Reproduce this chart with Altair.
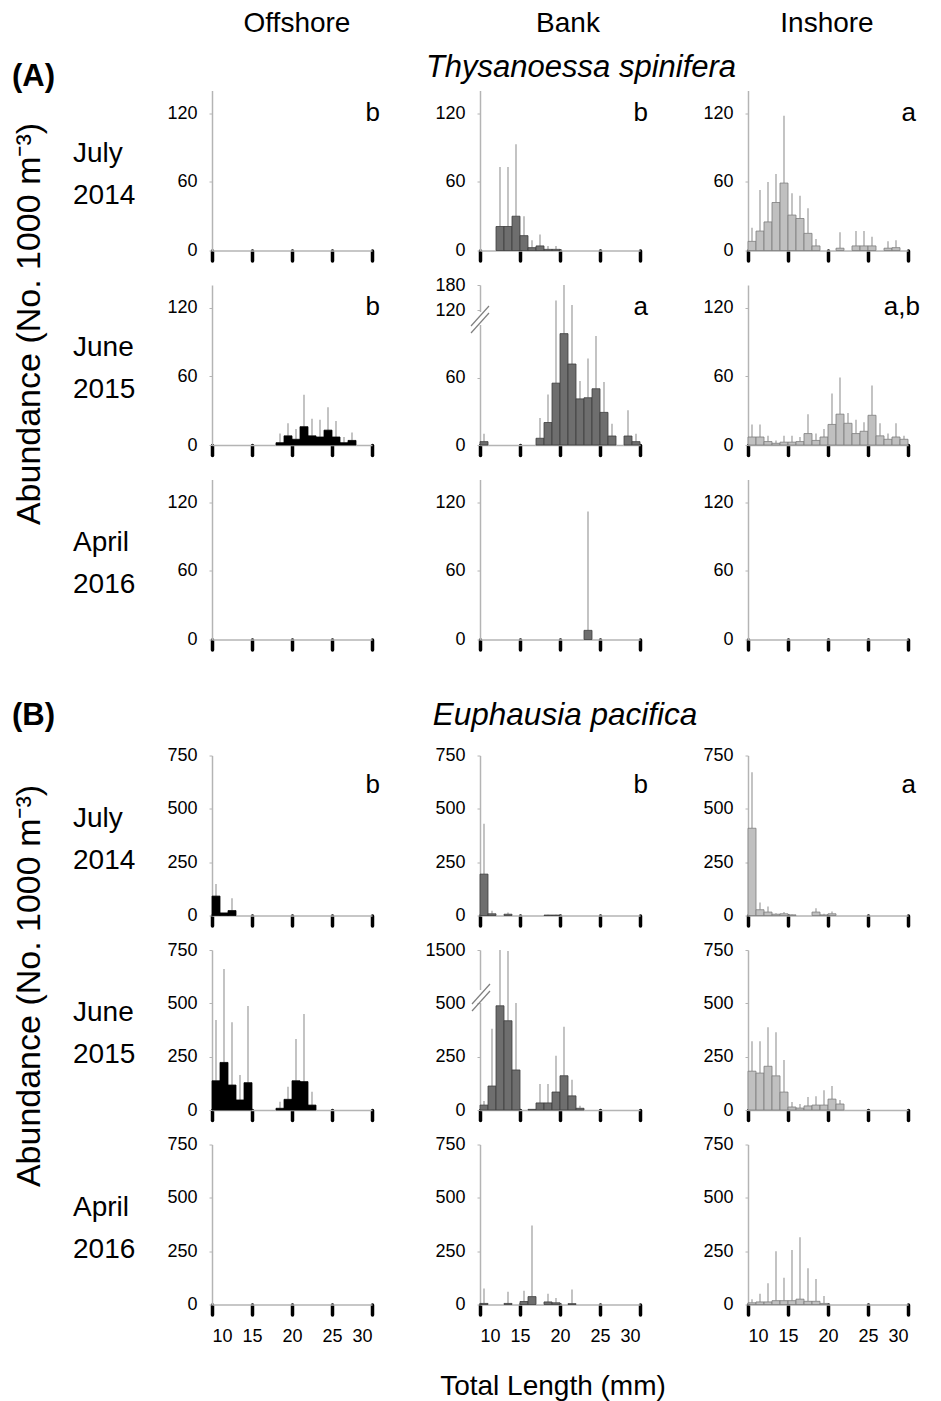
import altair as alt
import pandas as pd

FONT = "Liberation Sans"
BIN_START = list(range(10, 30))          # 1-mm length classes, 10..29
X_TICKS = [10, 15, 20, 25, 30]
COLUMNS = ["Offshore", "Bank", "Inshore"]
MONTHS = [("July", "2014"), ("June", "2015"), ("April", "2016")]
SPECIES = ["Thysanoessa spinifera", "Euphausia pacifica"]

# ---------------- (A) Thysanoessa spinifera ----------------
TS_JUL14_OFF_VAL = [0] * 20
TS_JUL14_OFF_ERR = [0] * 20
TS_JUL14_BANK_VAL = [0, 0, 21, 21, 30, 13, 2.5, 4, 1, 1, 0, 0, 0, 0, 0, 0, 0, 0, 0, 0]
TS_JUL14_BANK_ERR = [0, 0, 73, 73, 93, 30, 9, 14, 4, 4, 0, 0, 0, 0, 0, 0, 0, 0, 0, 0]
TS_JUL14_INS_VAL = [8, 17, 25, 42, 59, 31, 28, 15, 4, 0, 0, 2, 0, 4, 4, 4, 0, 2, 2.5, 0]
TS_JUL14_INS_ERR = [20, 53, 60, 67, 118, 50, 48, 37, 10, 0, 0, 16, 0, 17, 17, 12, 0, 8, 9, 0]

TS_JUN15_OFF_VAL = [0, 0, 0, 0, 0, 0, 0, 0, 2, 8, 5, 16, 8, 7, 13, 7, 2, 4, 0, 0]
TS_JUN15_OFF_ERR = [0, 0, 0, 0, 0, 0, 0, 0, 10, 19, 14, 44, 23, 22, 33, 21, 7, 11, 0, 0]
TS_JUN15_BANK_VAL = [3, 0, 0, 0, 0, 0, 0, 6, 20, 55, 99, 72, 41, 42, 50, 29, 8, 0, 8, 3]
TS_JUN15_BANK_ERR = [10, 0, 0, 0, 0, 0, 0, 24, 45, 143, 180, 132, 57, 77, 97, 56, 19, 0, 31, 10]
TS_JUN15_INS_VAL = [7, 7, 3, 1.5, 2.5, 2.5, 3, 10, 4, 7, 18, 27, 19, 10, 12, 26, 8, 5, 7, 5]
TS_JUN15_INS_ERR = [18, 18, 8, 4, 8, 8, 7, 27, 10, 14, 45, 59, 28, 22, 20, 52, 19, 10, 19, 8]

TS_APR16_OFF_VAL = [0] * 20
TS_APR16_OFF_ERR = [0] * 20
TS_APR16_BANK_VAL = [0, 0, 0, 0, 0, 0, 0, 0, 0, 0, 0, 0, 0, 8, 0, 0, 0, 0, 0, 0]
TS_APR16_BANK_ERR = [0, 0, 0, 0, 0, 0, 0, 0, 0, 0, 0, 0, 0, 112, 0, 0, 0, 0, 0, 0]
TS_APR16_INS_VAL = [0] * 20
TS_APR16_INS_ERR = [0] * 20

# ---------------- (B) Euphausia pacifica ----------------
EP_JUL14_OFF_VAL = [91, 12, 23, 0, 0, 0, 0, 0, 0, 0, 0, 0, 0, 0, 0, 0, 0, 0, 0, 0]
EP_JUL14_OFF_ERR = [148, 0, 81, 0, 0, 0, 0, 0, 0, 0, 0, 0, 0, 0, 0, 0, 0, 0, 0, 0]
EP_JUL14_BANK_VAL = [194, 8, 0, 6, 0, 0, 0, 0, 2, 2, 0, 0, 0, 0, 0, 0, 0, 0, 0, 0]
EP_JUL14_BANK_ERR = [430, 22, 0, 14, 0, 0, 0, 0, 3, 3, 0, 0, 0, 0, 0, 0, 0, 0, 0, 0]
EP_JUL14_INS_VAL = [409, 27, 16, 6, 8, 3, 0, 0, 16, 3, 8, 0, 0, 0, 0, 0, 0, 0, 0, 0]
EP_JUL14_INS_ERR = [672, 61, 42, 11, 16, 6, 0, 0, 34, 8, 19, 0, 0, 0, 0, 0, 0, 0, 0, 0]

EP_JUN15_OFF_VAL = [137, 223, 117, 47, 128, 0, 0, 0, 8, 50, 137, 133, 23, 0, 0, 0, 0, 0, 0, 0]
EP_JUN15_OFF_ERR = [422, 661, 411, 164, 487, 0, 0, 0, 39, 109, 333, 450, 86, 0, 0, 0, 0, 0, 0, 0]
EP_JUN15_BANK_VAL = [23, 112, 487, 417, 187, 0, 3, 33, 33, 84, 160, 66, 8, 0, 0, 0, 0, 0, 0, 0]
EP_JUN15_BANK_ERR = [42, 380, 1500, 1480, 500, 0, 4, 122, 122, 253, 389, 141, 20, 0, 0, 0, 0, 0, 0, 0]
EP_JUN15_INS_VAL = [182, 173, 205, 160, 84, 14, 9, 19, 23, 23, 51, 28, 0, 0, 0, 0, 0, 0, 0, 0]
EP_JUN15_INS_ERR = [322, 322, 388, 365, 234, 37, 28, 61, 65, 93, 112, 47, 0, 0, 0, 0, 0, 0, 0, 0]

EP_APR16_OFF_VAL = [0] * 20
EP_APR16_OFF_ERR = [0] * 20
EP_APR16_BANK_VAL = [5, 0, 0, 5, 0, 14, 37, 0, 12, 8, 0, 4, 0, 0, 0, 0, 0, 0, 0, 0]
EP_APR16_BANK_ERR = [75, 0, 0, 60, 0, 65, 370, 0, 50, 30, 0, 70, 0, 0, 0, 0, 0, 0, 0, 0]
EP_APR16_INS_VAL = [8, 12, 12, 18, 18, 18, 25, 15, 15, 5, 0, 0, 0, 0, 0, 0, 0, 0, 0, 0]
EP_APR16_INS_ERR = [25, 50, 100, 250, 125, 255, 315, 170, 120, 40, 0, 0, 0, 0, 0, 0, 0, 0, 0, 0]

# significance letters [species][month][region]
LETTERS = [
    [["b", "b", "a"], ["b", "a", "a,b"], ["", "", ""]],
    [["b", "b", "a"], ["", "", ""], ["", "", ""]],
]

DATA = [
    [
        [(TS_JUL14_OFF_VAL, TS_JUL14_OFF_ERR), (TS_JUL14_BANK_VAL, TS_JUL14_BANK_ERR), (TS_JUL14_INS_VAL, TS_JUL14_INS_ERR)],
        [(TS_JUN15_OFF_VAL, TS_JUN15_OFF_ERR), (TS_JUN15_BANK_VAL, TS_JUN15_BANK_ERR), (TS_JUN15_INS_VAL, TS_JUN15_INS_ERR)],
        [(TS_APR16_OFF_VAL, TS_APR16_OFF_ERR), (TS_APR16_BANK_VAL, TS_APR16_BANK_ERR), (TS_APR16_INS_VAL, TS_APR16_INS_ERR)],
    ],
    [
        [(EP_JUL14_OFF_VAL, EP_JUL14_OFF_ERR), (EP_JUL14_BANK_VAL, EP_JUL14_BANK_ERR), (EP_JUL14_INS_VAL, EP_JUL14_INS_ERR)],
        [(EP_JUN15_OFF_VAL, EP_JUN15_OFF_ERR), (EP_JUN15_BANK_VAL, EP_JUN15_BANK_ERR), (EP_JUN15_INS_VAL, EP_JUN15_INS_ERR)],
        [(EP_APR16_OFF_VAL, EP_APR16_OFF_ERR), (EP_APR16_BANK_VAL, EP_APR16_BANK_ERR), (EP_APR16_INS_VAL, EP_APR16_INS_ERR)],
    ],
]

FILL = ["#000000", "#6e6e6e", "#c0c0c0"]
STROKE = ["#000000", "#3c3c3c", "#7c7c7c"]
ERR_COLOR = "#9c9c9c"
AXIS_GREY = "#b4b4b4"

PW, PH = 160, 160
LW = 96
BIG = 28


def y_setup(sp, m, r):
    if sp == 0:
        if m == 1 and r == 1:
            return alt.Scale(domain=[0, 120, 180], range=[PH, 25, 0], nice=False), [0, 60, 120, 180], \
                [(-9, 41, 9, 21), (-9, 48, 9, 28)], (27, 40)
        return alt.Scale(domain=[0, 140], nice=False), [0, 60, 120], None, None
    if m == 1 and r == 1:
        return alt.Scale(domain=[0, 500, 1500], range=[PH, 53, 0], nice=False), [0, 250, 500, 1500], \
            [(-8, 54, 10, 34), (-8, 61, 10, 41)], (40, 53)
    return alt.Scale(domain=[0, 750], nice=False), [0, 250, 500, 750], None, None


def panel(sp, m, r):
    vals, errs = DATA[sp][m][r]
    df = pd.DataFrame({
        "x0": BIN_START,
        "x1": [b + 1 for b in BIN_START],
        "xm": [b + 0.5 for b in BIN_START],
        "v": vals,
        "e": errs,
    })
    yscale, yticks, breaks, mask = y_setup(sp, m, r)
    bottom = (sp == 1 and m == 2)
    xaxis = alt.Axis(values=X_TICKS, title=None, grid=False, labels=bottom,
                     labelFontSize=18, labelFont=FONT, labelColor="black", labelPadding=13,
                     domainColor=AXIS_GREY, domainWidth=1.5, tickColor="black",
                     tickWidth=3.5, tickSize=10, tickCap="round")
    yaxis = alt.Axis(values=yticks, title=None, grid=False, labelFontSize=18, labelFont=FONT,
                     labelColor="black", labelPadding=12, domainColor=AXIS_GREY, domainWidth=1.5,
                     tickColor=AXIS_GREY, tickSize=3, format="d")
    xscale = alt.Scale(domain=[10, 30], nice=False, zero=False)
    xenc = alt.X("x0:Q", scale=xscale, axis=xaxis)
    yenc = alt.Y("v:Q", scale=yscale, axis=yaxis)

    base = alt.Chart(df).mark_bar(opacity=0).encode(x=xenc, x2="x1:Q", y=yenc, y2=alt.datum(0))
    bars = alt.Chart(df).transform_filter("datum.v > 0").mark_bar(
        fill=FILL[r], stroke=STROKE[r], strokeWidth=0.8).encode(
        x=xenc, x2="x1:Q", y=yenc, y2=alt.datum(0))
    errs_l = alt.Chart(df).transform_filter("datum.e > datum.v").mark_rule(
        color=ERR_COLOR, strokeWidth=1.2).encode(
        x=alt.X("xm:Q", scale=xscale, axis=xaxis), y=yenc, y2="e:Q")
    layers = [base, errs_l, bars]
    letter = LETTERS[sp][m][r]
    if letter:
        layers.append(alt.Chart(pd.DataFrame({"t": [letter]})).mark_text(
            align="right", baseline="middle", fontSize=26, font=FONT, color="black").encode(
            text="t:N", x=alt.value(PW + (12 if "," in letter else 8)), y=alt.value(22 if sp == 0 else 29)))
    if breaks:
        layers.append(alt.Chart(pd.DataFrame({"k": [0]})).mark_rule(color="white", strokeWidth=5).encode(
            x=alt.value(0), y=alt.value(mask[0]), y2=alt.value(mask[1])))
        for (xa, ya, xb, yb) in breaks:
            layers.append(alt.Chart(pd.DataFrame({"k": [0]})).mark_rule(color="#808080", strokeWidth=1.2).encode(
                x=alt.value(xa), y=alt.value(ya), x2=alt.value(xb), y2=alt.value(yb)))
    return alt.layer(*layers).properties(width=PW, height=PH)


def text_layer(t, x, y, size=BIG, align="left", angle=0, style="normal", weight="normal"):
    return alt.Chart(pd.DataFrame({"t": [t]})).mark_text(
        align=align, baseline="middle", fontSize=size, font=FONT, color="black",
        angle=angle, fontStyle=style, fontWeight=weight).encode(
        text="t:N", x=alt.value(x), y=alt.value(y))


def blank(w, h):
    return alt.Chart(pd.DataFrame({"k": [0]})).mark_rule(opacity=0).encode(
        x=alt.value(2), y=alt.value(2), y2=alt.value(3)).properties(width=w, height=h)


def row_label(sp, m):
    top, bot = MONTHS[m]
    layers = [text_layer(top, 65, 63), text_layer(bot, 65, 105)]
    if m == 1:
        layers.append(text_layer("Abundance (No. 1000 m\u207b\u00b3)", 22, 39 if sp == 0 else 36,
                                 size=34, align="center", angle=270))
    return alt.layer(*layers).properties(width=LW, height=PH)


HEAD_H = 43.5
cells = []

# header row
cells.append(alt.layer(
    text_layer(COLUMNS[0], 289, 12, align="center"),
    text_layer(COLUMNS[1], 560, 12, align="center"),
    text_layer(COLUMNS[2], 819, 12, align="center"),
    text_layer("(A)", 4, 65, size=31, weight="bold"),
    text_layer(SPECIES[0], 573, 56, size=31, align="center", style="italic"),
).properties(width=LW, height=HEAD_H))
cells += [blank(PW, HEAD_H) for _ in range(3)]

for m in range(3):
    cells.append(row_label(0, m))
    cells += [panel(0, m, r) for r in range(3)]

cells.append(alt.layer(
    text_layer("(B)", 4, 42, size=31, weight="bold"),
    text_layer(SPECIES[1], 557, 42, size=31.5, align="center", style="italic"),
).properties(width=LW, height=47))
cells += [blank(PW, 47) for _ in range(3)]

for m in range(3):
    cells.append(row_label(1, m))
    cells += [panel(1, m, r) for r in range(3)]

cells.append(alt.layer(
    text_layer("Total Length (mm)", 545, 48, align="center"),
).properties(width=LW, height=50))
cells += [blank(PW, 50) for _ in range(3)]

chart = alt.concat(
    *cells, columns=4, spacing={"row": 34.5, "column": 108}, bounds="flush",
).properties(
    padding={"top": 2, "left": 0, "right": 0, "bottom": 0}, background="white"
).configure_view(stroke="transparent", strokeWidth=0)

chart.save("out.html", embed_options={"renderer": "svg", "actions": False})
